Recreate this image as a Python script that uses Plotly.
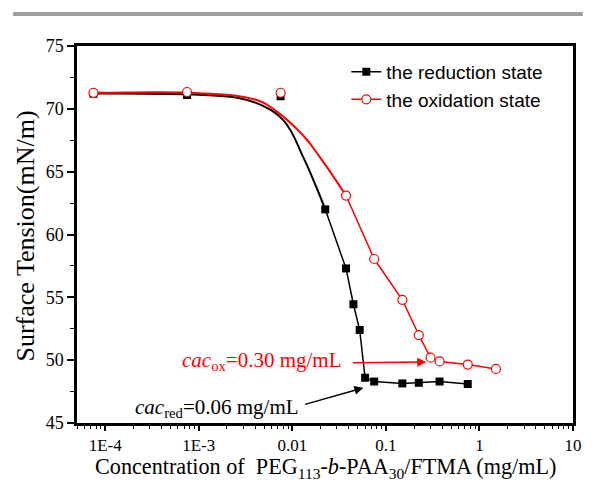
import numpy as np
import plotly.graph_objects as go

# ---- data ----
red_x = [7.5e-5, 7.5e-4, 7.5e-3, 0.0225, 0.0375, 0.045, 0.0525, 0.06, 0.075, 0.15, 0.225, 0.375, 0.75]
red_y = [71.2, 71.1, 71.0, 62.0, 57.3, 54.45, 52.4, 48.6, 48.3, 48.15, 48.2, 48.3, 48.1]

ox_x = [7.5e-5, 7.5e-4, 7.5e-3, 0.0375, 0.075, 0.15, 0.225, 0.3, 0.375, 0.75, 1.5]
ox_y = [71.28, 71.34, 71.28, 63.1, 58.05, 54.8, 52.0, 50.2, 49.9, 49.65, 49.3]

# fitted curves
red_fit_x = [7.5e-5, 1e-4, 1e-3, 2.5e-3, 4.2e-3, 8e-3, 0.013, 0.018, 0.0225]
red_fit_y = [71.22, 71.22, 71.12, 70.9, 70.44, 69.1, 66.2, 63.8, 62.0]
ox_fit_x = [7.5e-5, 1e-4, 1e-3, 4.2e-3, 6.5e-3, 0.013, 0.0204, 0.0375]
ox_fit_y = [71.28, 71.28, 71.25, 70.7, 69.9, 67.9, 66.0, 63.1]

x_tickvals = [1e-4, 1e-3, 1e-2, 1e-1, 1, 10]
x_ticktext = ["1E-4", "1E-3", "0.01", "0.1", "1", "10"]
y_tickvals = [45, 50, 55, 60, 65, 70, 75]

legend_names = ["the reduction state", "the oxidation state"]

x_title = "Concentration of  PEG<sub>113</sub>-<i>b</i>-PAA<sub>30</sub>/FTMA (mg/mL)"
y_title = "Surface Tension(mN/m)"
ox_label = "<i>cac</i><sub>ox</sub>=0.30 mg/mL"
red_label = "<i>cac</i><sub>red</sub>=0.06 mg/mL"
ox_arrow_head = (0.27, 49.85)
ox_arrow_tail = (0.043, 49.8)
red_arrow_head = (0.0575, 47.8)
red_arrow_tail = (0.0132, 46.45)

BLACK = "#000000"
RED = "#ff0000"
serif = "Liberation Serif, Times New Roman, serif"
sans = "Liberation Sans, Arial, sans-serif"

fig = go.Figure()

n_red_flat = 3
n_ox_flat = 3

fig.add_trace(go.Scatter(x=red_fit_x, y=red_fit_y, mode="lines",
                         line=dict(color=BLACK, width=2, shape="spline", smoothing=1.2),
                         showlegend=False, hoverinfo="skip"))
fig.add_trace(go.Scatter(x=red_x[:n_red_flat], y=red_y[:n_red_flat], mode="markers",
                         marker=dict(symbol="square", size=8, color=BLACK), showlegend=False))
fig.add_trace(go.Scatter(x=red_x[n_red_flat:], y=red_y[n_red_flat:], mode="lines+markers",
                         line=dict(color=BLACK, width=1.5),
                         marker=dict(symbol="square", size=8, color=BLACK),
                         name=legend_names[0], legendgroup="a"))
fig.add_trace(go.Scatter(x=ox_fit_x, y=ox_fit_y, mode="lines",
                         line=dict(color=RED, width=2, shape="spline", smoothing=1.2),
                         showlegend=False, hoverinfo="skip"))
fig.add_trace(go.Scatter(x=ox_x[:n_ox_flat], y=ox_y[:n_ox_flat], mode="markers",
                         marker=dict(symbol="circle", size=9, color="white", line=dict(color=RED, width=1.2)),
                         showlegend=False))
fig.add_trace(go.Scatter(x=ox_x[n_ox_flat:], y=ox_y[n_ox_flat:], mode="lines+markers",
                         line=dict(color=RED, width=1.5),
                         marker=dict(symbol="circle", size=9, color="white", line=dict(color=RED, width=1.2)),
                         name=legend_names[1], legendgroup="b"))

fig.update_layout(
    width=592, height=482,
    margin=dict(l=77, r=10, t=46, b=59),
    paper_bgcolor="white", plot_bgcolor="white",
    showlegend=True,
    legend=dict(x=0.543, y=0.982, xanchor="left", yanchor="top",
                font=dict(family=sans, size=19, color=BLACK),
                bgcolor="rgba(0,0,0,0)", tracegroupgap=0, traceorder="grouped"),
    xaxis=dict(type="log", range=[np.log10(5e-5), 1], tickvals=x_tickvals, ticktext=x_ticktext,
               ticks="outside", ticklen=5, tickwidth=1.5, tickcolor=BLACK,
               minor=dict(ticks="outside", ticklen=3, tickwidth=1.2, tickcolor=BLACK, dtick="D1", showgrid=False),
               showline=True, linewidth=2.5, linecolor=BLACK, mirror=True, showgrid=False, zeroline=False,
               tickfont=dict(family=serif, size=17, color=BLACK)),
    yaxis=dict(range=[45, 75], tickvals=y_tickvals,
               ticks="outside", ticklen=7, tickwidth=1.5, tickcolor=BLACK,
               minor=dict(ticks="outside", ticklen=4, tickwidth=1.2, tickcolor=BLACK, dtick=2.5, showgrid=False),
               showline=True, linewidth=2.5, linecolor=BLACK, mirror=True, showgrid=False, zeroline=False,
               tickfont=dict(family=serif, size=18, color=BLACK)),
)

# top grey bar
fig.add_shape(type="rect", xref="paper", yref="paper", x0=-0.1287, x1=1.0198, y0=1.0796, y1=1.0902,
              fillcolor="#a0a0a0", line=dict(width=0), layer="above")

# axis titles
fig.add_annotation(x=0.501, y=-0.077, xref="paper", yref="paper", xanchor="center", yanchor="top",
                   showarrow=False, text=x_title, font=dict(family=serif, size=22.2, color=BLACK))
fig.add_annotation(x=-0.103, y=0.497, xref="paper", yref="paper", xanchor="center", yanchor="middle",
                   textangle=-90, showarrow=False, text=y_title, font=dict(family=serif, size=26, color=BLACK))

L = np.log10
fig.add_annotation(x=L(ox_arrow_head[0]), y=ox_arrow_head[1], ax=L(ox_arrow_tail[0]), ay=ox_arrow_tail[1],
                   xref="x", yref="y", axref="x", ayref="y", showarrow=True, arrowhead=2, arrowsize=1.2,
                   arrowwidth=1.5, arrowcolor=RED, text="")
fig.add_annotation(x=L(red_arrow_head[0]), y=red_arrow_head[1], ax=L(red_arrow_tail[0]), ay=red_arrow_tail[1],
                   xref="x", yref="y", axref="x", ayref="y", showarrow=True, arrowhead=2, arrowsize=1.2,
                   arrowwidth=1.5, arrowcolor=BLACK, text="")
fig.add_annotation(x=L(ox_arrow_tail[0]) - 0.08, y=49.9, xref="x", yref="y", xanchor="right", yanchor="middle",
                   showarrow=False, text=ox_label, font=dict(family=serif, size=21, color=RED))
fig.add_annotation(x=L(red_arrow_tail[0]) - 0.03, y=46.2, xref="x", yref="y", xanchor="right", yanchor="middle",
                   showarrow=False, text=red_label, font=dict(family=serif, size=21, color=BLACK))

fig.write_html("out.html", config={"displayModeBar": False},
               post_script="document.body.style.margin='0';document.body.style.overflow='hidden';")
